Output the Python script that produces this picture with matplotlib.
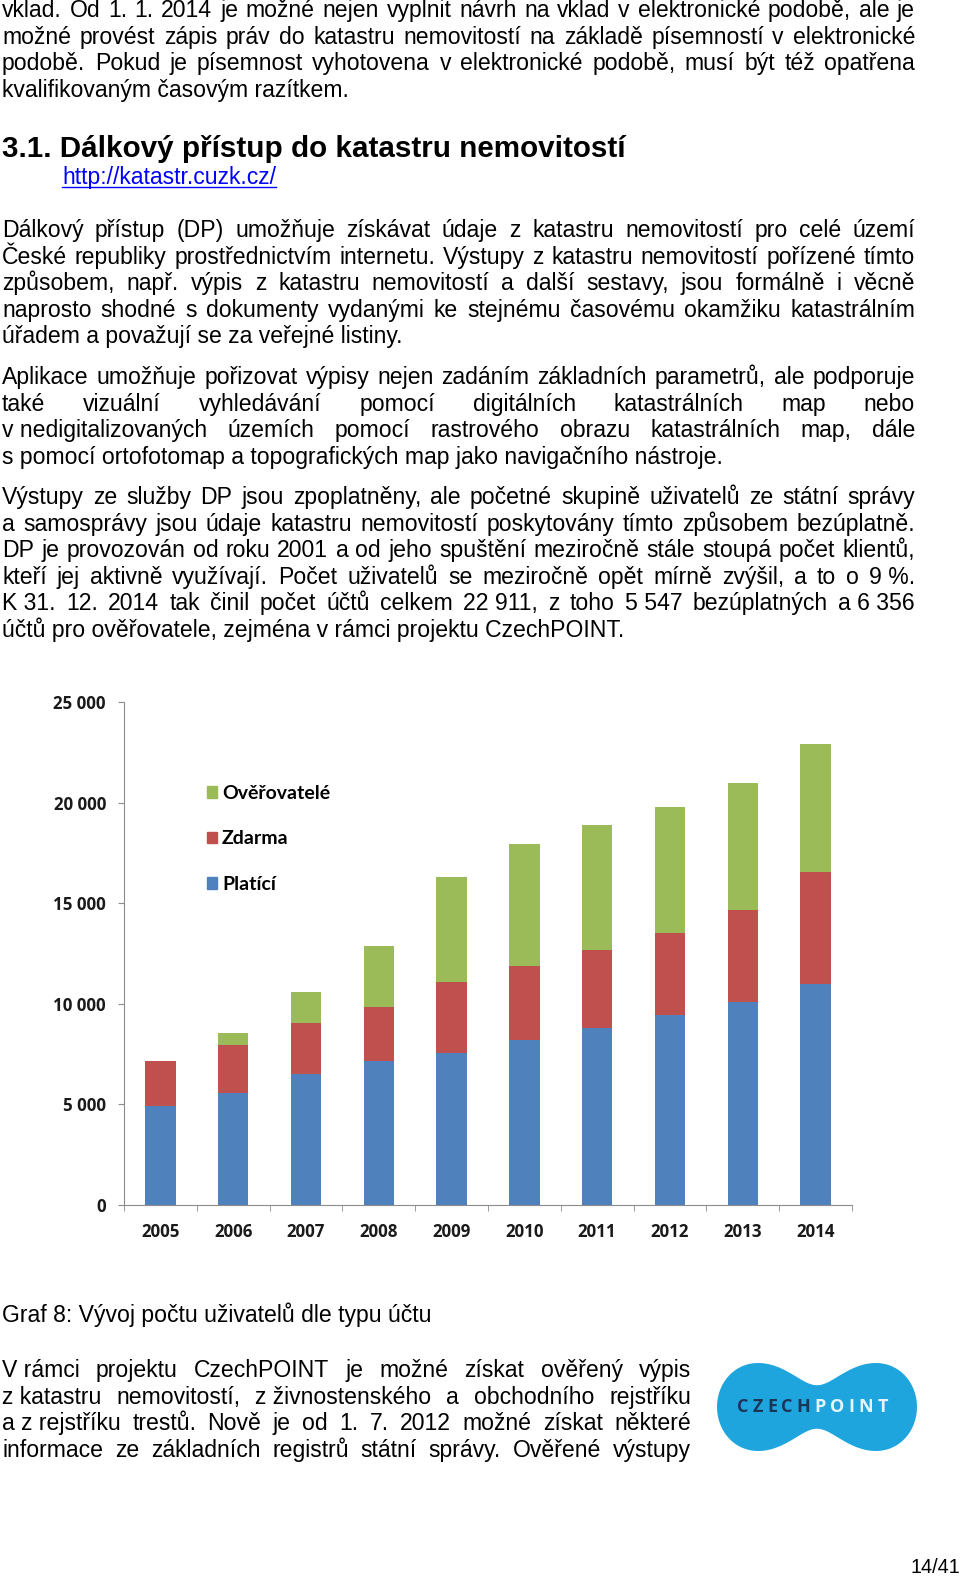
import numpy as np
import matplotlib
matplotlib.use("Agg")
import matplotlib.pyplot as plt
from matplotlib.patches import Patch
from matplotlib.font_manager import FontProperties

years = ["2005", "2006", "2007", "2008", "2009", "2010", "2011", "2012", "2013", "2014"]
platici = [4940, 5580, 6520, 7140, 7570, 8210, 8800, 9420, 10090, 11008]
zdarma = [2200, 2360, 2520, 2700, 3520, 3690, 3890, 4080, 4550, 5547]
overovatele = [0, 620, 1570, 3010, 5200, 6050, 6180, 6260, 6330, 6356]
y_ticks = [0, 5000, 10000, 15000, 20000, 25000]

para1 = [
    "vklad. Od 1. 1. 2014 je možné nejen vyplnit návrh na vklad v elektronické podobě, ale je",
    "možné provést zápis práv do katastru nemovitostí na základě písemností v elektronické",
    "podobě. Pokud je písemnost vyhotovena v elektronické podobě, musí být též opatřena",
    "kvalifikovaným časovým razítkem.",
]
para2 = [
    "Dálkový přístup (DP) umožňuje získávat údaje z katastru nemovitostí pro celé území",
    "České republiky prostřednictvím internetu. Výstupy z katastru nemovitostí pořízené tímto",
    "způsobem, např. výpis z katastru nemovitostí a další sestavy, jsou formálně i věcně",
    "naprosto shodné s dokumenty vydanými ke stejnému časovému okamžiku katastrálním",
    "úřadem a považují se za veřejné listiny.",
]
para3 = [
    "Aplikace umožňuje pořizovat výpisy nejen zadáním základních parametrů, ale podporuje",
    "také vizuální vyhledávání pomocí digitálních katastrálních map nebo",
    "v\u00a0nedigitalizovaných územích pomocí rastrového obrazu katastrálních map, dále",
    "s\u00a0pomocí ortofotomap a topografických map jako navigačního nástroje.",
]
para4 = [
    "Výstupy ze služby DP jsou zpoplatněny, ale početné skupině uživatelů ze státní správy",
    "a samosprávy jsou údaje katastru nemovitostí poskytovány tímto způsobem bezúplatně.",
    "DP je provozován od roku 2001 a od jeho spuštění meziročně stále stoupá počet klientů,",
    "kteří jej aktivně využívají. Počet uživatelů se meziročně opět mírně zvýšil, a to o 9\u00a0%.",
    "K\u00a031. 12. 2014 tak činil počet účtů celkem 22\u00a0911, z toho 5\u00a0547 bezúplatných a\u00a06\u00a0356",
    "účtů pro ověřovatele, zejména v rámci projektu CzechPOINT.",
]
para5 = [
    "V\u00a0rámci projektu CzechPOINT je možné získat ověřený výpis",
    "z\u00a0katastru nemovitostí, z\u00a0živnostenského a obchodního rejstříku",
    "a\u00a0z\u00a0rejstříku trestů. Nově je od 1. 7. 2012 možné získat některé",
    "informace ze základních registrů státní správy. Ověřené výstupy",
]
heading = "3.1. Dálkový přístup do katastru nemovitostí"
link = "http://katastr.cuzk.cz/"
caption = "Graf 8: Vývoj počtu uživatelů dle typu účtu"

BODY = "Liberation Sans"
CHART = "Lato"
FS = 16.6

fig = plt.figure(figsize=(9.6, 15.77), dpi=100)
fig.patch.set_facecolor("white")
page = fig.add_axes([0, 0, 1, 1])
page.set_xlim(0, 960)
page.set_ylim(1577, 0)
page.axis("off")
renderer = fig.canvas.get_renderer()


def justified(lines, top, x0, x1, step=26.6, size=FS, last_left=True):
    for i, line in enumerate(lines):
        y = top + i * step
        if last_left and i == len(lines) - 1:
            page.text(x0, y, line, fontsize=size, family=BODY, va="baseline")
            continue
        words = line.split(" ")
        objs = [page.text(x0, y, w, fontsize=size, family=BODY, va="baseline") for w in words]
        widths = [o.get_window_extent(renderer).width for o in objs]
        gap = (x1 - x0 - sum(widths)) / (len(words) - 1)
        x = x0
        for o, w in zip(objs, widths):
            o.set_x(x)
            x += w + gap


justified(para1, 17, 2, 915)
page.text(2, 157, heading, fontsize=21.3, family=BODY, weight="bold", va="baseline")
lk = page.text(62, 184, link, fontsize=FS, family=BODY, color="#0000ff", va="baseline")
lw = lk.get_window_extent(renderer).width
page.plot([62, 62 + lw], [187, 187], color="#0000ff", lw=1)
justified(para2, 237, 2, 915)
justified(para3, 384, 2, 915)
justified(para4, 504, 2, 915)
page.text(2, 1322, caption, fontsize=FS, family=BODY, va="baseline")
justified(para5, 1377, 2, 691, last_left=False)
page.text(960, 1573, "14/41", fontsize=14.2, family=BODY, ha="right", va="baseline")

# CzechPOINT logo (Cassini oval)
th = np.linspace(0, 2 * np.pi, 400)
kk = 1.07
r = np.sqrt(np.cos(2 * th) + np.sqrt(kk ** 2 - np.sin(2 * th) ** 2))
lx = 817 + r * np.cos(th) * 100 / 1.439
ly = 1407 - r * np.sin(th) * 44 / 0.535
page.fill(lx, ly, color="#1fa5de", lw=0)
letters = [page.text(0, 1407, ch, fontsize=13, family="Open Sans", weight="bold",
                     color="#1b3556" if i < 5 else "#e4f5fc", ha="left", va="center")
           for i, ch in enumerate("CZECHPOINT")]
lwidths = [t.get_window_extent(renderer).width for t in letters]
track = (888 - 737 - sum(lwidths)) / (len(letters) - 1)
cx = 737
for t, w in zip(letters, lwidths):
    t.set_x(cx)
    cx += w + track

# chart
ax = fig.add_axes([124 / 960, 1 - 1205 / 1577, (852 - 124) / 960, (1205 - 702) / 1577])
x = np.arange(len(years))
p = np.array(platici)
z = np.array(zdarma)
o = np.array(overovatele)
ax.bar(x, p, width=0.42, color="#4f81bd", label="Platící")
ax.bar(x, z, width=0.42, bottom=p, color="#c0504d", label="Zdarma")
ax.bar(x, o, width=0.42, bottom=p + z, color="#9bbb59", label="Ověřovatelé")
ax.set_xlim(-0.5, len(years) - 0.5)
ax.set_ylim(0, 25000)
for s in ["top", "right"]:
    ax.spines[s].set_visible(False)
for s in ["left", "bottom"]:
    ax.spines[s].set_color("#8c8c8c")
ax.set_yticks(y_ticks)
ax.set_yticklabels([f"{v:,}".replace(",", "\u00a0") for v in y_ticks])
ax.set_xticks(x)
ax.set_xticklabels(years)
ax.set_xticks(np.arange(len(years) + 1) - 0.5, minor=True)
ax.tick_params(axis="y", length=4.5, color="#8c8c8c", pad=8.5, labelcolor="#1a1a1a")
ax.tick_params(axis="x", which="major", length=0, pad=13, labelcolor="#1a1a1a")
ax.tick_params(axis="x", which="minor", length=4, color="#8c8c8c")
tick_fp = FontProperties(family="Open Sans", weight="bold", size=12.2)
for lbl in ax.get_xticklabels() + ax.get_yticklabels():
    lbl.set_fontproperties(tick_fp)
handles = [Patch(color="#9bbb59"), Patch(color="#c0504d"), Patch(color="#4f81bd")]
ax.legend(handles, ["Ověřovatelé", "Zdarma", "Platící"], loc="upper left",
          bbox_to_anchor=(0.1, 0.855), frameon=False, borderpad=0,
          handlelength=0.55, handleheight=0.55, handletextpad=0.25, labelspacing=1.47,
          prop={"family": CHART, "weight": "bold", "size": 14})

fig.savefig("out.png", dpi=100)
